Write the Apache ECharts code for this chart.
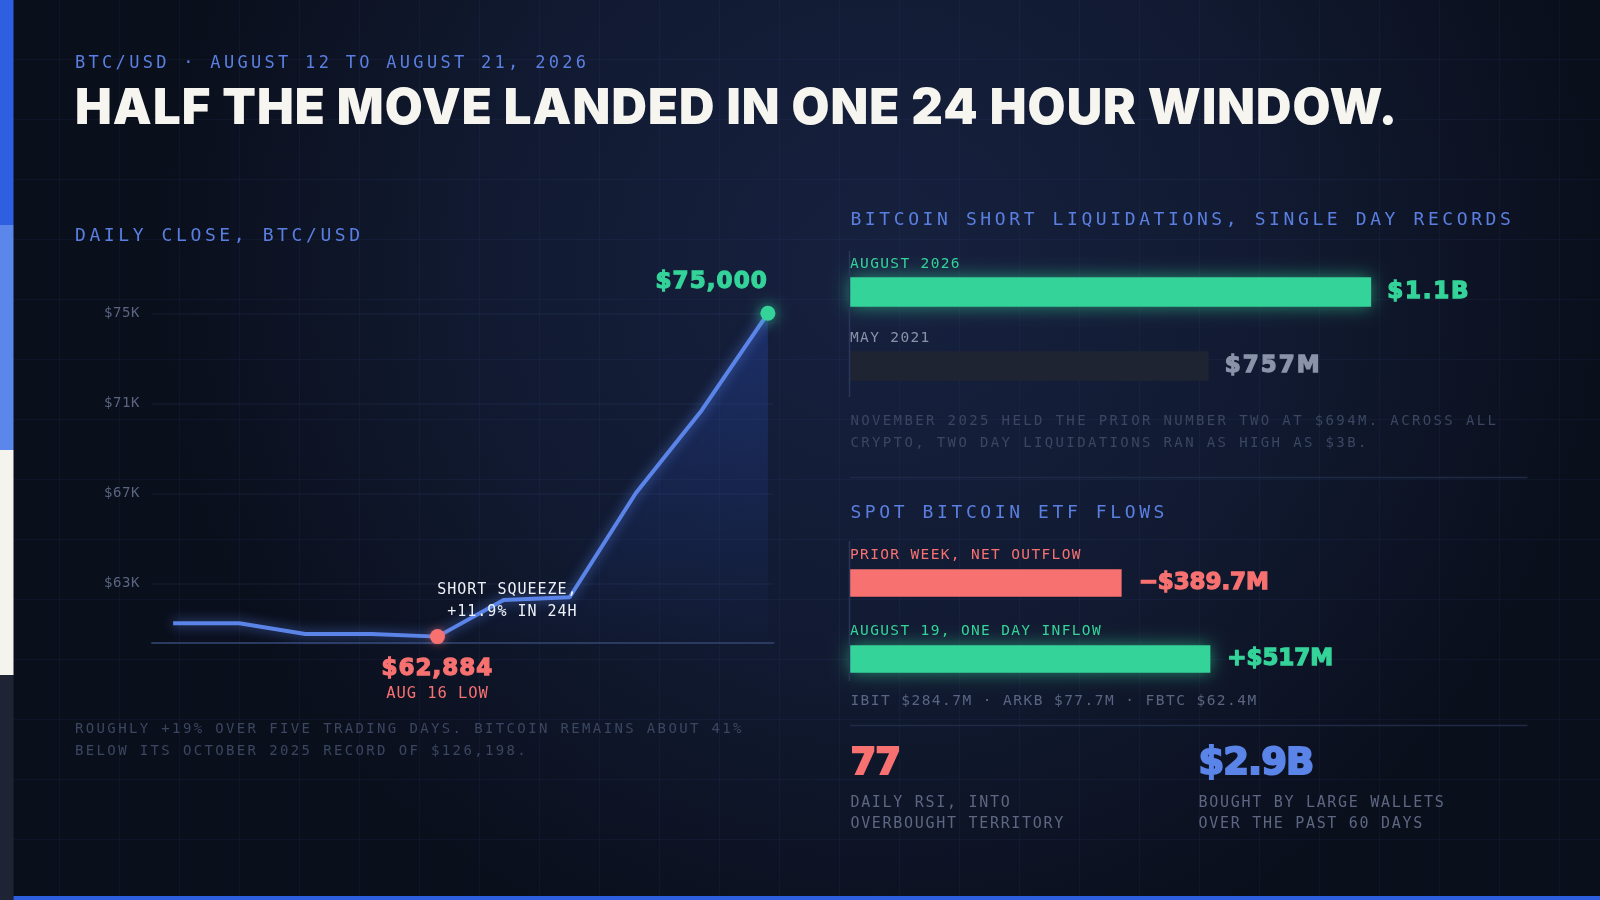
<!DOCTYPE html>
<html><head><meta charset="utf-8">
<script src="https://cdn.jsdelivr.net/npm/echarts@6/dist/echarts.min.js"></script>
<style>html,body{margin:0;padding:0;background:#0b1120;}#c{width:1600px;height:900px;}</style>
</head><body><div id="c"></div>
<script>
// letter-spacing support: a family token 'LSn' in the font list sets ctx.letterSpacing = n px
(function () {
  const P = CanvasRenderingContext2D.prototype;
  if (!('letterSpacing' in P)) return;
  const re = /LS(-?\d+(?:\.\d+)?)/;
  function apply(ctx) { const m = re.exec(ctx.font); const v = m ? m[1] + 'px' : '0px'; if (ctx.letterSpacing !== v) ctx.letterSpacing = v; }
  ['fillText', 'strokeText', 'measureText'].forEach(function (fn) {
    const o = P[fn];
    P[fn] = function () { apply(this); return o.apply(this, arguments); };
  });
})();

// ---------- data ----------
const DATES = ['AUG 12', 'AUG 13', 'AUG 14', 'AUG 15', 'AUG 16', 'AUG 17', 'AUG 18', 'AUG 19', 'AUG 20', 'AUG 21'];
const CLOSES = [61220, 61220, 60750, 60750, 60630, 62260, 62380, 67000, 70690, 75000];
const Y_TICKS = [63000, 67000, 71000, 75000];
const Y_TICK_LABELS = ['$63K', '$67K', '$71K', '$75K'];
const LOW_IDX = 4, PEAK_IDX = 9, SQUEEZE_IDX = 6;
const LOW_TEXT = '$62,884', LOW_SUB = 'AUG 16 LOW', PEAK_TEXT = '$75,000';
const SQUEEZE_TEXT = 'SHORT SQUEEZE,\n+11.9% IN 24H';

const LIQ_CATS = ['AUGUST 2026', 'MAY 2021'];
const LIQ_VALUES = [1100, 757];            // $M
const LIQ_TEXT = ['$1.1B', '$757M'];

const ETF_CATS = ['PRIOR WEEK, NET OUTFLOW', 'AUGUST 19, ONE DAY INFLOW'];
const ETF_VALUES = [-389.7, 517];          // $M
const ETF_TEXT = ['\u2212$389.7M', '+$517M'];

const STATS = [
  { value: '77', desc: 'DAILY RSI, INTO\nOVERBOUGHT TERRITORY', color: '#f87171' },
  { value: '$2.9B', desc: 'BOUGHT BY LARGE WALLETS\nOVER THE PAST 60 DAYS', color: '#5b84e8' }
];

// ---------- styles ----------
const MONO = function (ls) { return "'LS" + ls + "', 'DejaVu Sans Mono', monospace"; };
const HEAVY = function (ls) { return "'LS" + ls + "', Inter, Lato, sans-serif"; };
const NUM = function (ls) { return "'LS" + ls + "', 'DejaVu Sans', sans-serif"; };
const GREEN = '#34d399', RED = '#f87171', BLUE = '#5b84e8', HEAD = '#5a7fe0', GREY = '#8a93a8';
const Y_MIN = 60360, Y_MAX = 76500, X_MIN = -0.32, X_MAX = 9.085;

const chart = echarts.init(document.getElementById('c'), null, { renderer: 'canvas' });

const gfx = [];
gfx.push({ type: 'rect', z: -20, silent: true, shape: { x: 0, y: 0, width: 1600, height: 900 },
  style: { fill: new echarts.graphic.RadialGradient(0.55, 0.3, 0.8, [
    { offset: 0, color: '#16213f' }, { offset: 0.55, color: '#111a31' }, { offset: 1, color: '#0a0f1c' }]) } });
for (let x = 60; x < 1600; x += 60) gfx.push({ type: 'line', z: -19, silent: true, shape: { x1: x - 0.5, y1: 0, x2: x - 0.5, y2: 900 }, style: { stroke: 'rgba(90,120,210,0.07)', lineWidth: 1 } });
for (let y = 60; y < 900; y += 60) gfx.push({ type: 'line', z: -19, silent: true, shape: { x1: 0, y1: y - 0.5, x2: 1600, y2: y - 0.5 }, style: { stroke: 'rgba(90,120,210,0.07)', lineWidth: 1 } });
// left strip and bottom bar
['#2d5fe0', '#5b86ea', '#f4f3ee', '#1e2434'].forEach(function (c, i) {
  gfx.push({ type: 'rect', z: 50, silent: true, shape: { x: 0, y: i * 225, width: 13.5, height: 225 }, style: { fill: c } });
});
gfx.push({ type: 'rect', z: 50, silent: true, shape: { x: 13.5, y: 896, width: 1587, height: 4 }, style: { fill: '#2d5fe0' } });
// rules
gfx.push({ type: 'line', z: 5, silent: true, shape: { x1: 849.5, y1: 251, x2: 849.5, y2: 397 }, style: { stroke: '#2a3658', lineWidth: 1.5 } });
gfx.push({ type: 'line', z: 5, silent: true, shape: { x1: 849.5, y1: 541, x2: 849.5, y2: 681 }, style: { stroke: '#2a3658', lineWidth: 1.5 } });
gfx.push({ type: 'line', z: 5, silent: true, shape: { x1: 850, y1: 477.5, x2: 1527.5, y2: 477.5 }, style: { stroke: '#1f2a44', lineWidth: 1.5 } });
gfx.push({ type: 'line', z: 5, silent: true, shape: { x1: 850, y1: 725.5, x2: 1527.5, y2: 725.5 }, style: { stroke: '#1f2a44', lineWidth: 1.5 } });

function txt(text, x, y, size, family, color, extra) {
  const s = Object.assign({ text: text, x: x, y: y, fontSize: size, fontFamily: family, fill: color, align: 'left', verticalAlign: 'middle' }, extra || {});
  gfx.push({ type: 'text', z: 60, silent: true, style: s });
}
txt('BTC/USD \u00b7 AUGUST 12 TO AUGUST 21, 2026', 75, 63.1, 17, MONO(3.3), HEAD);
txt('HALF THE MOVE LANDED IN ONE 24 HOUR WINDOW.', 75, 109.5, 49, HEAVY(1.1), '#f6f5f0', { fontWeight: 900 });
txt('DAILY CLOSE, BTC/USD', 75, 236.5, 18, MONO(3.6), HEAD);
txt('ROUGHLY +19% OVER FIVE TRADING DAYS. BITCOIN REMAINS ABOUT 41%\nBELOW ITS OCTOBER 2025 RECORD OF $126,198.', 75, 740.5, 14, MONO(2.36), '#3b4661', { lineHeight: 22.7 });
txt('BITCOIN SHORT LIQUIDATIONS, SINGLE DAY RECORDS', 850.4, 220.1, 18, MONO(3.6), HEAD);
txt('NOVEMBER 2025 HELD THE PRIOR NUMBER TWO AT $694M. ACROSS ALL\nCRYPTO, TWO DAY LIQUIDATIONS RAN AS HIGH AS $3B.', 850.4, 432.4, 14, MONO(2.37), '#3b4661', { lineHeight: 22.3 });
txt('SPOT BITCOIN ETF FLOWS', 850.4, 513.5, 18, MONO(3.6), HEAD);
txt('IBIT $284.7M \u00b7 ARKB $77.7M \u00b7 FBTC $62.4M', 850.4, 701.5, 14.5, MONO(1.45), '#5a6581');
STATS.forEach(function (st, i) {
  const x = i === 0 ? 850.4 : 1198.6;
  txt(st.value, x, 764, 37, NUM(-1), st.color, { fontWeight: 'bold', stroke: st.color, lineWidth: 2 });
  txt(st.desc, x, 813.5, 15, MONO(1.7), '#5d6782', { lineHeight: 20.7 });
});

const LIQ_LS = [1.8, 2.0];

const option = {
  backgroundColor: '#0b1120',
  animation: false,
  graphic: { elements: gfx },
  grid: [
    { left: 152, right: 826.5, top: 279.5, bottom: 257.3 },
    { left: 850, right: 72.5, top: 255, height: 148 },
    { left: 850, right: 72.5, top: 545, height: 152 }
  ],
  xAxis: [
    { type: 'value', gridIndex: 0, min: X_MIN, max: X_MAX, axisLabel: { show: false }, axisTick: { show: false }, splitLine: { show: false },
      axisLine: { show: true, lineStyle: { color: '#2a3a60', width: 2 } } },
    { type: 'value', gridIndex: 1, min: 0, max: 1430, show: false },
    { type: 'value', gridIndex: 2, min: 0, max: 972, show: false }
  ],
  yAxis: [
    { type: 'value', gridIndex: 0, min: Y_MIN, max: Y_MAX, axisLine: { show: false },
      axisTick: { show: false, customValues: Y_TICKS },
      axisLabel: { customValues: Y_TICKS, margin: 12, color: '#5a6581', fontSize: 14, fontFamily: MONO(0.6), padding: [6, 0, 0, 0],
        formatter: function (v) { const i = Y_TICKS.indexOf(v); return i >= 0 ? Y_TICK_LABELS[i] : ''; } },
      splitLine: { show: true, lineStyle: { color: 'rgba(120,140,200,0.08)', width: 1.5 } } },
    { type: 'category', gridIndex: 1, data: LIQ_CATS, inverse: true, axisLine: { show: false }, axisTick: { show: false },
      axisLabel: { inside: true, margin: 0, align: 'left', verticalAlign: 'bottom', padding: [0, 0, 20, 0], fontSize: 14.5, fontFamily: MONO(1.35),
        color: function (v, i) { return i === 0 ? GREEN : GREY; } } },
    { type: 'category', gridIndex: 2, data: ETF_CATS, inverse: true, axisLine: { show: false }, axisTick: { show: false },
      axisLabel: { inside: true, margin: 0, align: 'left', verticalAlign: 'bottom', padding: [0, 0, 19.5, 0], fontSize: 14.5, fontFamily: MONO(1.35),
        color: function (v, i) { return ETF_VALUES[i] < 0 ? RED : GREEN; } } }
  ],
  series: [
    { type: 'line', xAxisIndex: 0, yAxisIndex: 0, name: 'BTC/USD',
      data: CLOSES.map(function (v, i) { return { name: DATES[i], value: [i, v] }; }),
      showSymbol: false, silent: true, z: 3,
      lineStyle: { color: BLUE, width: 4, shadowBlur: 12, shadowColor: 'rgba(91,132,232,0.75)' },
      areaStyle: { origin: 'start', color: new echarts.graphic.LinearGradient(0, 0, 0, 1, [
        { offset: 0, color: 'rgba(46,86,210,0.42)' }, { offset: 1, color: 'rgba(46,86,210,0.02)' }]) },
      markPoint: { silent: true, animation: false, data: [
        { coord: [LOW_IDX, CLOSES[LOW_IDX]], symbol: 'circle', symbolSize: 15, itemStyle: { color: RED, shadowBlur: 8, shadowColor: 'rgba(248,113,113,0.5)' },
          label: { show: true, position: 'bottom', distance: 10, formatter: '{v|' + LOW_TEXT + '}\n{s|' + LOW_SUB + '}',
            rich: { v: { fontFamily: NUM(1.0), fontWeight: 'bold', fontSize: 23, color: RED, textBorderColor: RED, textBorderWidth: 1.3, lineHeight: 30, align: 'center' },
                    s: { fontFamily: MONO(0.9), fontSize: 15.5, color: RED, lineHeight: 20, align: 'center' } } } },
        { coord: [PEAK_IDX, CLOSES[PEAK_IDX]], symbol: 'circle', symbolSize: 15, itemStyle: { color: GREEN, shadowBlur: 14, shadowColor: 'rgba(52,211,153,0.8)' },
          label: { show: true, position: 'top', distance: 12, align: 'right', formatter: PEAK_TEXT,
            fontFamily: NUM(1.1), fontWeight: 'bold', fontSize: 23, color: GREEN, textBorderColor: GREEN, textBorderWidth: 1.3 } },
        { coord: [SQUEEZE_IDX, CLOSES[SQUEEZE_IDX]], symbol: 'circle', symbolSize: 1, itemStyle: { color: 'rgba(0,0,0,0)' },
          label: { show: true, position: [8.5, -17.5], align: 'right', verticalAlign: 'top', formatter: SQUEEZE_TEXT,
            fontFamily: MONO(1), fontSize: 15, lineHeight: 22, color: '#eef1f7' } }
      ] } },
    { type: 'bar', xAxisIndex: 1, yAxisIndex: 1, name: 'Short liquidations', barWidth: 29.4, silent: true,
      data: LIQ_VALUES.map(function (v, i) {
        const c = i === 0 ? GREEN : GREY;
        return { value: v, itemStyle: i === 0 ? { color: GREEN, shadowBlur: 18, shadowColor: 'rgba(52,211,153,0.6)' } : { color: '#1f2433' },
          label: { color: c, textBorderColor: c, fontFamily: NUM(LIQ_LS[i]) } };
      }),
      label: { show: true, position: 'right', distance: 16, fontWeight: 'bold', fontSize: 23, textBorderWidth: 1.3,
        formatter: function (p) { return LIQ_TEXT[p.dataIndex]; } } },
    { type: 'bar', xAxisIndex: 2, yAxisIndex: 2, name: 'ETF flows', barWidth: 27.3, silent: true,
      data: ETF_VALUES.map(function (v) {
        const c = v < 0 ? RED : GREEN;
        return { value: Math.abs(v), itemStyle: v < 0 ? { color: RED } : { color: GREEN, shadowBlur: 18, shadowColor: 'rgba(52,211,153,0.6)' },
          label: { color: c, textBorderColor: c } };
      }),
      label: { show: true, position: 'right', distance: 17, fontFamily: NUM(-0.1), fontWeight: 'bold', fontSize: 23, textBorderWidth: 1.3,
        formatter: function (p) { return ETF_TEXT[p.dataIndex]; } } }
  ]
};
chart.setOption(option);
</script>
</body></html>
